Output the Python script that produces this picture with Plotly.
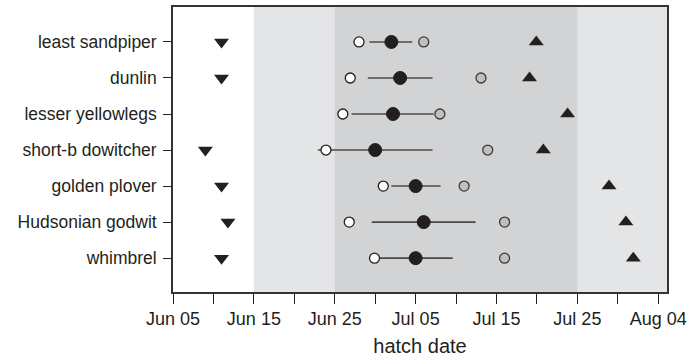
import plotly.graph_objects as go

species = ["least sandpiper", "dunlin", "lesser yellowlegs", "short-b dowitcher",
           "golden plover", "Hudsonian godwit", "whimbrel"]

down_tri = ["2000-06-11", "2000-06-11", None, "2000-06-09",
            "2000-06-11", "2000-06-11 19:00", "2000-06-11"]
white_pt = ["2000-06-28", "2000-06-26 22:00", "2000-06-26", "2000-06-23 22:00",
            "2000-07-01", "2000-06-26 19:00", "2000-06-29 22:00"]
range_lo = ["2000-06-29 07:00", "2000-06-29 02:00", "2000-06-27 02:00", "2000-06-22 22:00",
            "2000-07-02", "2000-06-29 14:00", "2000-06-29 22:00"]
range_hi = ["2000-07-04 14:00", "2000-07-07 02:00", "2000-07-07 05:00", "2000-07-07 02:00",
            "2000-07-08 02:00", "2000-07-12 10:00", "2000-07-09 14:00"]
black_pt = ["2000-07-02", "2000-07-03 02:00", "2000-07-02 05:00", "2000-06-30",
            "2000-07-05", "2000-07-06", "2000-07-05"]
gray_pt = ["2000-07-06", "2000-07-13 02:00", "2000-07-08", "2000-07-13 22:00",
           "2000-07-11", "2000-07-16", "2000-07-16"]
up_tri = ["2000-07-19 22:00", "2000-07-19 02:00", "2000-07-23 19:00", "2000-07-20 19:00",
          "2000-07-28 22:00", "2000-07-31", "2000-07-31 22:00"]

x_start, x_end = "2000-06-05", "2000-08-05 02:00"
light_band = ["2000-06-15", x_end]
dark_band = ["2000-06-25", "2000-07-25"]

ink = "#231f20"
fig = go.Figure()

lx, ly = [], []
for s, a, b in zip(species, range_lo, range_hi):
    lx += [a, b, None]
    ly += [s, s, None]
fig.add_trace(go.Scatter(x=lx, y=ly, mode="lines",
                         line=dict(color="#4a4a4a", width=1.6), hoverinfo="skip"))

dx = [d for d in down_tri if d]
dy = [s for s, d in zip(species, down_tri) if d]
fig.add_trace(go.Scatter(x=dx, y=dy, mode="markers",
                         marker=dict(symbol="triangle-down", size=13, color=ink)))
fig.add_trace(go.Scatter(x=white_pt, y=species, mode="markers",
                         marker=dict(symbol="circle", size=10, color="white",
                                     line=dict(color=ink, width=1.3))))
fig.add_trace(go.Scatter(x=black_pt, y=species, mode="markers",
                         marker=dict(symbol="circle", size=13, color=ink,
                                     line=dict(color=ink, width=1))))
fig.add_trace(go.Scatter(x=gray_pt, y=species, mode="markers",
                         marker=dict(symbol="circle", size=10, color="#bfc0c2",
                                     line=dict(color="#3a3a3a", width=1.3))))
fig.add_trace(go.Scatter(x=up_tri, y=species, mode="markers",
                         marker=dict(symbol="triangle-up", size=13, color=ink)))

fig.add_shape(type="rect", xref="x", yref="paper", x0=light_band[0], x1=light_band[1],
              y0=0, y1=1, fillcolor="#e4e5e7", line_width=0, layer="below")
fig.add_shape(type="rect", xref="x", yref="paper", x0=dark_band[0], x1=dark_band[1],
              y0=0, y1=1, fillcolor="#d2d3d5", line_width=0, layer="below")

fig.update_layout(
    width=690, height=360,
    margin=dict(l=173, r=23, t=7, b=68),
    paper_bgcolor="white", plot_bgcolor="white",
    showlegend=False,
    font=dict(family="Liberation Sans, Arial, sans-serif", size=16, color=ink),
    xaxis=dict(
        type="date", range=[x_start, x_end], automargin=False,
        tick0="2000-06-05", dtick=864000000, tickformat="%b %d",
        ticks="outside", ticklen=10, tickwidth=1.3, tickcolor=ink,
        minor=dict(dtick=432000000, tick0="2000-06-05", ticks="outside",
                   ticklen=10, tickwidth=1.3, tickcolor=ink, showgrid=False),
        showgrid=False, zeroline=False,
        showline=True, linecolor="#333333", linewidth=1.6, mirror=True,
        tickfont=dict(size=18),
        title=dict(text="hatch date", standoff=11, font=dict(size=20)),
    ),
    yaxis=dict(
        type="category", categoryorder="array", categoryarray=species,
        range=[6.94, -0.97], automargin=False,
        ticks="outside", ticklen=8, tickwidth=1.3, tickcolor=ink,
        ticklabelstandoff=3,
        showgrid=False, zeroline=False,
        showline=True, linecolor="#333333", linewidth=1.6, mirror=True,
        tickfont=dict(size=17.5),
    ),
)

fig.write_html("out.html")
